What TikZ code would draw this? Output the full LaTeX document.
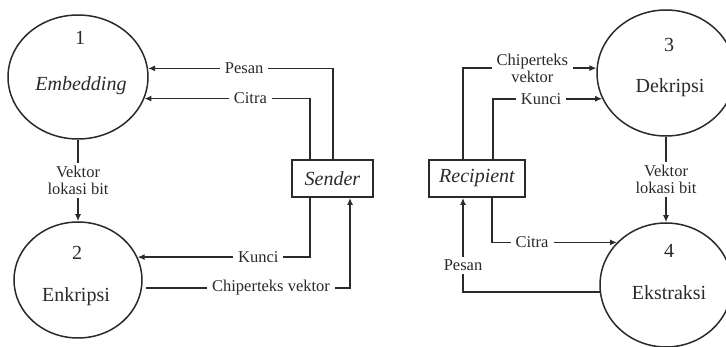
\documentclass[tikz,border=0pt]{standalone}
\usepackage{fontspec}
\setmainfont{Liberation Serif}
\usetikzlibrary{arrows.meta,shapes.geometric}
\definecolor{ink}{HTML}{2A2A2A}

\begin{document}
\begin{tikzpicture}[x=1pt,y=-1pt,
  proc/.style={draw=ink,line width=1.5pt,ellipse,inner sep=0pt},
  store/.style={draw=ink,line width=1.8pt,minimum height=37pt,inner sep=0pt,text=ink,font=\fontsize{20}{22}\selectfont\itshape},
  flow/.style={draw=ink,line width=1.6pt,-{Latex[length=7pt,width=6pt]}},
  lbl/.style={fill=white,inner xsep=5pt,inner ysep=3pt,align=center,text=ink,font=\fontsize{16.5}{17}\selectfont},
  ttl/.style={anchor=base,text=ink,font=\fontsize{20}{22}\selectfont}]
  \useasboundingbox (0,0) rectangle (726,347);
  \node[proc,minimum width=140pt,minimum height=124pt] (p1) at (78,77) {};
  \node[proc,minimum width=128pt,minimum height=116pt] (p2) at (78,280) {};
  \node[proc,minimum width=138pt,minimum height=126pt] (p3) at (666,73) {};
  \node[proc,minimum width=132pt,minimum height=124pt] (p4) at (666,285) {};
  \node[ttl] (n1) at (80,45) {1};
  \node[ttl,font=\fontsize{20}{22}\selectfont\itshape] (t1) at (81,91) {Embedding};
  \node[ttl] (n2) at (77,260) {2};
  \node[ttl] (t2) at (76,302) {Enkripsi};
  \node[ttl] (n3) at (669,52) {3};
  \node[ttl] (t3) at (670,93) {Dekripsi};
  \node[ttl] (n4) at (669,258) {4};
  \node[ttl] (t4) at (669,300) {Ekstraksi};
  \node[store,minimum width=81pt] (snd) at (332.5,178.5) {Sender};
  \node[store,minimum width=96pt] (rcp) at (477,178.5) {Recipient};
  \draw[flow] ([xshift=0.5pt]snd.north) |- (p1.7) node[lbl,pos=0.74] {Pesan};
  \draw[flow] ([xshift=-22.5pt]snd.north) |- (p1.-18) node[lbl,pos=0.68] {Citra};
  \draw[flow] ([xshift=-22.5pt]snd.south) |- (p2.21) node[lbl,pos=0.65] {Kunci};
  \draw[flow,shorten <=4pt] (p2.-7) -| ([xshift=17.5pt]snd.south) node[lbl,pos=0.31] {Chiperteks vektor};
  \draw[flow] (p1.south) -- (p2.north) node[lbl,midway] {Vektor\\lokasi bit};
  \draw[flow] ([xshift=-14pt]rcp.north) |- (p3.176) node[lbl,pos=0.76] {Chiperteks\\vektor};
  \draw[flow] ([xshift=16pt]rcp.north) |- (p3.202) node[lbl,pos=0.72] {Kunci};
  \draw[flow] ([xshift=15pt]rcp.south) |- (p4.139) node[lbl,pos=0.66] {Citra};
  \draw[flow] (p4.186) -| ([xshift=-14pt]rcp.south) node[lbl,pos=0.64] {Pesan};
  \draw[flow] (p3.south) -- (p4.north) node[lbl,midway] {Vektor\\lokasi bit};
\end{tikzpicture}
\end{document}
